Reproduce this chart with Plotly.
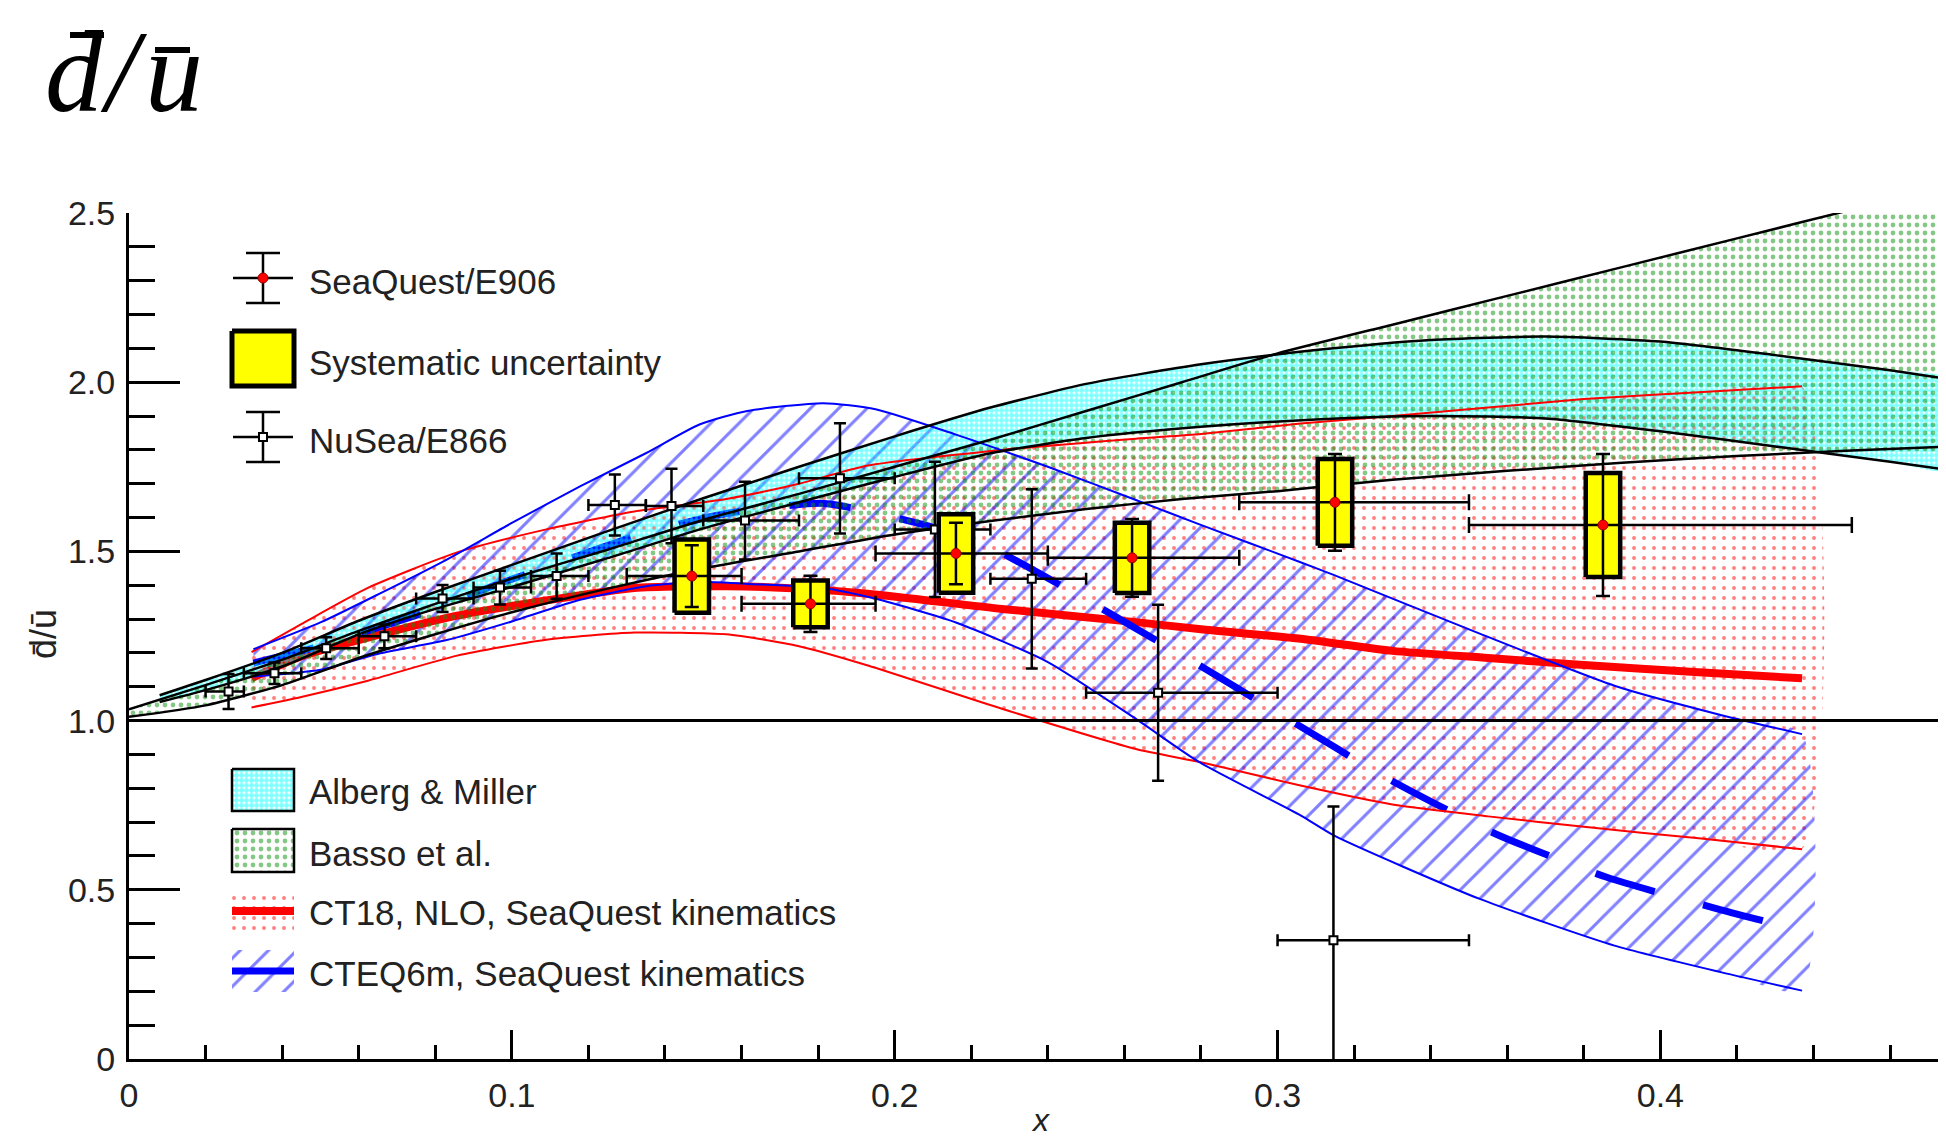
import numpy as np
import plotly.graph_objects as go

# ---------------- data ----------------
# SeaQuest / E906
sq_x    = [0.147, 0.178, 0.216, 0.262, 0.315, 0.385]
sq_y    = [1.427, 1.345, 1.494, 1.481, 1.645, 1.578]
sq_xlo  = [0.130, 0.160, 0.195, 0.240, 0.290, 0.350]
sq_xhi  = [0.160, 0.195, 0.240, 0.290, 0.350, 0.450]
sq_stat = [0.091, 0.083, 0.091, 0.115, 0.143, 0.210]
sq_syst = [0.108, 0.069, 0.116, 0.104, 0.128, 0.154]

# NuSea / E866
nu_x   = [0.026, 0.038, 0.0515, 0.0667, 0.0819, 0.0969, 0.1117, 0.1269, 0.1417, 0.1609, 0.1857, 0.2105, 0.2358, 0.2688, 0.3146]
nu_y   = [1.086, 1.140, 1.214, 1.249, 1.361, 1.393, 1.427, 1.637, 1.634, 1.591, 1.716, 1.565, 1.419, 1.082, 0.351]
nu_err = [0.052, 0.032, 0.032, 0.035, 0.040, 0.050, 0.067, 0.090, 0.110, 0.115, 0.163, 0.200, 0.265, 0.260, 0.395]
nu_xlo = [0.020, 0.030, 0.045, 0.060, 0.075, 0.090, 0.105, 0.120, 0.135, 0.150, 0.175, 0.200, 0.225, 0.250, 0.300]
nu_xhi = [0.030, 0.045, 0.060, 0.075, 0.090, 0.105, 0.120, 0.135, 0.150, 0.175, 0.200, 0.225, 0.250, 0.300, 0.350]

# Alberg & Miller band
am_x  = [0.008, 0.02, 0.04, 0.06, 0.08, 0.1, 0.125, 0.15, 0.175, 0.2, 0.225, 0.25, 0.28, 0.31, 0.34, 0.37, 0.4, 0.43, 0.46, 0.475]
am_up = [1.075, 1.12, 1.20, 1.295, 1.38, 1.46, 1.56, 1.657, 1.75, 1.84, 1.925, 1.995, 2.053, 2.095, 2.125, 2.135, 2.12, 2.08, 2.035, 2.01]
am_lo = [1.055, 1.09, 1.16, 1.255, 1.33, 1.395, 1.48, 1.568, 1.645, 1.72, 1.79, 1.835, 1.868, 1.89, 1.90, 1.893, 1.855, 1.81, 1.765, 1.741]

# Basso et al. band
bs_x  = [0.0, 0.02, 0.04, 0.06, 0.08, 0.1, 0.125, 0.15, 0.175, 0.2, 0.225, 0.25, 0.275, 0.3, 0.33, 0.36, 0.39, 0.42, 0.45, 0.475]
bs_up = [1.033, 1.105, 1.18, 1.265, 1.345, 1.42, 1.505, 1.593, 1.67, 1.75, 1.83, 1.915, 2.0, 2.085, 2.17, 2.255, 2.34, 2.425, 2.51, 2.58]
bs_lo = [1.011, 1.045, 1.105, 1.185, 1.255, 1.32, 1.39, 1.45, 1.50, 1.55, 1.59, 1.625, 1.655, 1.678, 1.712, 1.738, 1.762, 1.782, 1.798, 1.81]

# CT18 NLO band
ct_x  = [0.032, 0.045, 0.0624, 0.0857, 0.109, 0.132, 0.156, 0.175, 0.193, 0.228, 0.263, 0.28, 0.306, 0.33, 0.355, 0.38, 0.41, 0.437]
ct_up = [1.202, 1.285, 1.392, 1.497, 1.565, 1.618, 1.655, 1.70, 1.754, 1.80, 1.833, 1.847, 1.878, 1.90, 1.925, 1.95, 1.97, 1.988]
ct_lo = [1.039, 1.07, 1.118, 1.192, 1.239, 1.26, 1.255, 1.22, 1.163, 1.035, 0.916, 0.877, 0.808, 0.752, 0.717, 0.686, 0.652, 0.62]
ct_c  = [1.125, 1.19, 1.245, 1.31, 1.355, 1.392, 1.397, 1.39, 1.375, 1.33, 1.291, 1.27, 1.242, 1.206, 1.185, 1.164, 1.143, 1.125]

# CTEQ6m band
cq_x  = [0.0325, 0.05, 0.0656, 0.083, 0.100, 0.1178, 0.135, 0.149, 0.1615, 0.1813, 0.195, 0.216, 0.240, 0.263, 0.2796, 0.306, 0.3148, 0.3528, 0.388, 0.416, 0.437]
cq_up = [1.211, 1.29, 1.376, 1.476, 1.584, 1.692, 1.79, 1.875, 1.915, 1.938, 1.92, 1.845, 1.75, 1.652, 1.58, 1.468, 1.43, 1.257, 1.103, 1.016, 0.96]
cq_lo = [1.13, 1.15, 1.199, 1.238, 1.293, 1.357, 1.397, 1.41, 1.404, 1.392, 1.36, 1.29, 1.173, 1.005, 0.877, 0.72, 0.66, 0.473, 0.335, 0.256, 0.202]
cqc_x = [0.0325, 0.05, 0.0656, 0.08, 0.092, 0.108, 0.118, 0.135, 0.155, 0.181, 0.199, 0.221, 0.248, 0.2676, 0.2754, 0.3024, 0.3292, 0.357, 0.386, 0.4158, 0.437]
cqc_y = [1.17, 1.22, 1.277, 1.33, 1.385, 1.45, 1.49, 1.555, 1.61, 1.642, 1.603, 1.534, 1.37, 1.242, 1.192, 1.007, 0.826, 0.665, 0.537, 0.441, 0.38]

x_tickvals = [0, 0.1, 0.2, 0.3, 0.4]
x_ticktext = ["0", "0.1", "0.2", "0.3", "0.4"]
y_tickvals = [0, 0.5, 1.0, 1.5, 2.0, 2.5]
y_ticktext = ["0", "0.5", "1.0", "1.5", "2.0", "2.5"]

legend_top = ["SeaQuest/E906", "Systematic uncertainty", "NuSea/E866"]
legend_bot = ["Alberg &amp; Miller", "Basso et al.", "CT18, NLO, SeaQuest kinematics", "CTEQ6m, SeaQuest kinematics"]

# ---------------- layout geometry (page pixels) ----------------
PAGE_W, PAGE_H = 1946, 1139
BODY = 8                      # default body margin of the html page
W, H = PAGE_W - BODY, PAGE_H - BODY
PL, PR, PT, PB = 129, 1946, 213, 1059   # plot area in page pixels
XMAX = 0.4746

def pxx(X):
    return (X - PL) / (PR - PL)

def pxy(Y):
    return (PB - Y) / (PB - PT)

RED, BLUE, CYAN, GREEN, YEL = "#ff0000", "#0000ff", "#00ffff", "#0b900b", "#ffff00"
TXT = "#222222"
FONT = "Liberation Sans"
CLEAR = "rgba(0,0,0,0)"

fig = go.Figure()

def band(xs, up, lo, pattern, name):
    fig.add_trace(go.Scatter(
        x=list(xs) + list(xs)[::-1], y=list(up) + list(lo)[::-1],
        fill="toself", mode="lines", line=dict(width=0, shape="spline", smoothing=0.6),
        fillcolor=CLEAR, fillpattern=pattern, hoverinfo="skip", showlegend=False, name=name))

def edge(xs, ys, color, width, dash="solid"):
    fig.add_trace(go.Scatter(
        x=xs, y=ys, mode="lines", line=dict(color=color, width=width, shape="spline", smoothing=0.6, dash=dash),
        hoverinfo="skip", showlegend=False))

pat_red = dict(shape=".", fgcolor=RED, bgcolor=CLEAR, size=10, solidity=0.12)
pat_blue = dict(shape="/", fgcolor=BLUE, bgcolor=CLEAR, size=20, solidity=0.15)
pat_cyan = dict(shape=".", fgcolor=CYAN, bgcolor=CLEAR, size=5, solidity=0.75)
pat_green = dict(shape=".", fgcolor=GREEN, bgcolor=CLEAR, size=8, solidity=0.28)

# bands (fills)
band(ct_x, ct_up, ct_lo, pat_red, "CT18")
band(cq_x, cq_up, cq_lo, pat_blue, "CTEQ6m")
# central curves
edge(ct_x, ct_c, RED, 8)
edge(cqc_x, cqc_y, BLUE, 7, dash="62px,50px")
band(am_x, am_up, am_lo, pat_cyan, "Alberg & Miller")
band(bs_x, bs_up, bs_lo, pat_green, "Basso")
# band edges
edge(ct_x, ct_up, RED, 2)
edge(ct_x, ct_lo, RED, 2)
edge(cq_x, cq_up, BLUE, 2)
edge(cq_x, cq_lo, BLUE, 2)
edge(am_x, am_up, "black", 2.5)
edge(am_x, am_lo, "black", 2.5)
edge(bs_x, bs_up, "black", 2.5)
edge(bs_x, bs_lo, "black", 2.5)

# NuSea/E866 points
nx = np.array(nu_x)
fig.add_trace(go.Scatter(
    x=nu_x, y=nu_y, mode="markers",
    marker=dict(symbol="square", size=8, color="white", line=dict(color="black", width=2)),
    error_y=dict(type="data", array=nu_err, color="black", thickness=2.5, width=6),
    error_x=dict(type="data", symmetric=False, array=np.array(nu_xhi) - nx,
                 arrayminus=nx - np.array(nu_xlo), color="black", thickness=2.5, width=6),
    hoverinfo="skip", showlegend=False))

# SeaQuest systematic boxes (built from data arrays)
half_w = 0.0045
bx, by = [], []
for xi, yi, si in zip(sq_x, sq_y, sq_syst):
    bx += [xi - half_w, xi + half_w, xi + half_w, xi - half_w, xi - half_w, None]
    by += [yi - si, yi - si, yi + si, yi + si, yi - si, None]
fig.add_trace(go.Scatter(x=bx, y=by, mode="lines", fill="toself", fillcolor=YEL,
                         line=dict(color="black", width=4.5), hoverinfo="skip", showlegend=False))

sx = np.array(sq_x)
fig.add_trace(go.Scatter(
    x=sq_x, y=sq_y, mode="markers",
    marker=dict(symbol="circle", size=10, color=RED, line=dict(color="#990000", width=1)),
    error_y=dict(type="data", array=sq_stat, color="black", thickness=2.5, width=7),
    error_x=dict(type="data", symmetric=False, array=np.array(sq_xhi) - sx,
                 arrayminus=sx - np.array(sq_xlo), color="black", thickness=2.5, width=8),
    hoverinfo="skip", showlegend=False))

# ---------------- legend glyphs (overlay axes in page-pixel units) ----------------
def lg(**kw):
    kw.setdefault("hoverinfo", "skip")
    kw.setdefault("showlegend", False)
    fig.add_trace(go.Scatter(xaxis="x2", yaxis="y2", **kw))

LX0, LX1, LXC = 232, 294, 263
# SeaQuest
lg(x=[LXC - 30, LXC + 30], y=[278, 278], mode="lines", line=dict(color="black", width=2.5))
lg(x=[LXC], y=[278], mode="markers", marker=dict(size=10, color=RED, line=dict(color="#990000", width=1)),
   error_y=dict(type="constant", value=25, color="black", thickness=2.5, width=17))
# Systematic
lg(x=[LX0, LX1, LX1, LX0, LX0], y=[331, 331, 386, 386, 331], mode="lines", fill="toself",
   fillcolor=YEL, line=dict(color="black", width=5))
# NuSea
lg(x=[LXC - 30, LXC + 30], y=[437, 437], mode="lines", line=dict(color="black", width=2.5))
lg(x=[LXC], y=[437], mode="markers", marker=dict(symbol="square", size=8, color="white", line=dict(color="black", width=2)),
   error_y=dict(type="constant", value=25, color="black", thickness=2.5, width=17))
# Alberg & Miller
lg(x=[LX0, LX1, LX1, LX0, LX0], y=[769, 769, 811, 811, 769], mode="lines", fill="toself",
   fillcolor=CLEAR, fillpattern=pat_cyan, line=dict(color="black", width=2.5))
# Basso
lg(x=[LX0, LX1, LX1, LX0, LX0], y=[829, 829, 872, 872, 829], mode="lines", fill="toself",
   fillcolor=CLEAR, fillpattern=pat_green, line=dict(color="black", width=2.5))
# CT18
lg(x=[LX0, LX1, LX1, LX0, LX0], y=[891, 891, 932, 932, 891], mode="lines", fill="toself",
   fillcolor=CLEAR, fillpattern=pat_red, line=dict(width=0))
lg(x=[LX0, LX1], y=[911, 911], mode="lines", line=dict(color=RED, width=8))
# CTEQ6m
lg(x=[LX0, LX1, LX1, LX0, LX0], y=[950, 950, 992, 992, 950], mode="lines", fill="toself",
   fillcolor=CLEAR, fillpattern=pat_blue, line=dict(width=0))
lg(x=[LX0, LX1], y=[971, 971], mode="lines", line=dict(color=BLUE, width=7))

annotations = []
for txt, yy in zip(legend_top, [282, 362, 441]):
    annotations.append(dict(text=txt, x=pxx(307), y=pxy(yy), xref="paper", yref="paper",
                            xanchor="left", yanchor="middle", showarrow=False,
                            font=dict(family=FONT, size=35, color=TXT)))
for txt, yy in zip(legend_bot, [791, 853, 912, 973]):
    annotations.append(dict(text=txt, x=pxx(307), y=pxy(yy), xref="paper", yref="paper",
                            xanchor="left", yanchor="middle", showarrow=False,
                            font=dict(family=FONT, size=35, color=TXT)))
# big title: letters placed individually, bars drawn as strokes
TITLE_SIZE = 116
TITLE_CY = 72
for ch, cx in [("<i>d</i>", 74), ("<i>/</i>", 124), ("<i>u</i>", 174)]:
    annotations.append(dict(text=ch, x=pxx(cx), y=pxy(TITLE_CY), xref="paper", yref="paper",
                            xanchor="center", yanchor="middle", showarrow=False,
                            font=dict(family="Liberation Serif", size=TITLE_SIZE, color="black")))
# y-axis title
annotations.append(dict(text="d\u0304/u\u0304", x=pxx(43), y=pxy(634), xref="paper", yref="paper",
                        xanchor="center", yanchor="middle", showarrow=False, textangle=-90,
                        font=dict(family=FONT, size=36, color=TXT)))
# x-axis title
annotations.append(dict(text="<i>x</i>", x=pxx(1040), y=pxy(1120), xref="paper", yref="paper",
                        xanchor="center", yanchor="middle", showarrow=False,
                        font=dict(family=FONT, size=32, color=TXT)))

for (xa, xb, yb) in [(70, 104, 35), (155, 190, 50)]:
    fig.add_shape(type="line", xref="paper", yref="paper", x0=pxx(xa), x1=pxx(xb),
                  y0=pxy(yb), y1=pxy(yb), line=dict(color="black", width=6))

fig.add_shape(type="line", xref="paper", x0=0, x1=1, yref="y", y0=1, y1=1,
              line=dict(color="black", width=3), layer="above")

fig.update_layout(
    width=W, height=H, autosize=False,
    margin=dict(l=PL - BODY, r=0, t=PT - BODY, b=PAGE_H - PB, pad=0),
    paper_bgcolor="white", plot_bgcolor="white",
    showlegend=False,
    annotations=annotations,
    xaxis=dict(range=[0, XMAX], showgrid=False, zeroline=False, showline=True, linecolor="black",
               linewidth=3, ticks="inside", ticklen=29, tickwidth=2.5, tickcolor="black",
               tickvals=x_tickvals, ticktext=x_ticktext, ticklabelstandoff=4,
               tickfont=dict(family=FONT, size=34, color=TXT),
               minor=dict(ticks="inside", ticklen=14, tickwidth=2.5, tickcolor="black", dtick=0.02, tick0=0)),
    yaxis=dict(range=[0, 2.5], showgrid=False, zeroline=False, showline=True, linecolor="black",
               linewidth=3, ticks="inside", ticklen=51, tickwidth=2.5, tickcolor="black",
               tickvals=y_tickvals, ticktext=y_ticktext, ticklabelstandoff=4,
               tickfont=dict(family=FONT, size=34, color=TXT),
               minor=dict(ticks="inside", ticklen=26, tickwidth=2.5, tickcolor="black", dtick=0.1, tick0=0)),
    xaxis2=dict(overlaying="x", range=[PL, PR], visible=False, fixedrange=True),
    yaxis2=dict(overlaying="y", range=[PB, PT], visible=False, fixedrange=True),
)

fig.write_html("out.html")
